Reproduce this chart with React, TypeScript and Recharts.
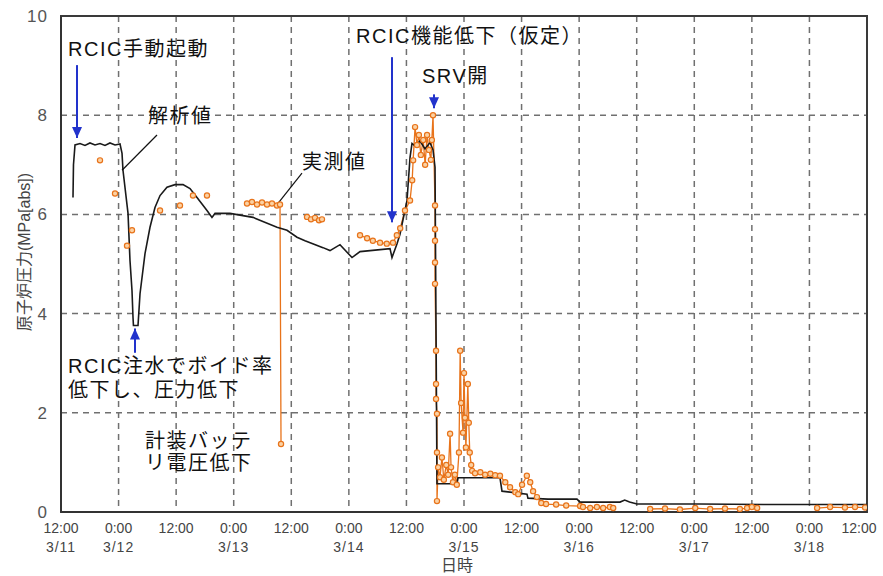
import React from 'react';
import {
  LineChart,
  Line,
  XAxis,
  YAxis,
  CartesianGrid,
  ReferenceLine,
  ReferenceDot,
  ReferenceArea,
} from 'recharts';

// Time axis is in hours counted from 3/11 0:00.
const tickHours = [12, 24, 36, 48, 60, 72, 84, 96, 108, 120, 132, 144, 156, 168, 180];
const tickTimes = ['12:00', '0:00', '12:00', '0:00', '12:00', '0:00', '12:00', '0:00', '12:00', '0:00', '12:00', '0:00', '12:00', '0:00', '12:00'];
const tickDates = ['3/11', '3/12', '', '3/13', '', '3/14', '', '3/15', '', '3/16', '', '3/17', '', '3/18', ''];
const pressureTicks = [0, 2, 4, 6, 8, 10];

// 解析値 (analysis result), MPa[abs]
const analysisHours = [
  14.5, 14.6, 14.92, 15.96, 17.0, 18.04, 19.09, 20.13, 21.17, 22.21, 23.26, 24.3,
  24.72, 24.92, 25.97, 26.38, 26.8, 27.01, 27.1, 28.05, 28.47, 29.51, 30.55, 31.59,
  32.64, 34.09, 35.76, 37.43, 38.89, 40.35, 42.43, 43.47, 44.1, 47.23, 52.02, 57.02,
  59.11, 61.19, 62.86, 66.61, 68.07, 70.15, 72.66, 74.33, 80.58, 80.99, 82.04, 82.66,
  84.12, 84.75, 85.16, 85.79, 86.83, 87.87, 88.91, 89.54, 89.96, 90.37, 94.54, 94.75,
  103.5, 103.92, 109.13, 109.33, 113.51, 119.55, 120.18, 128.52, 129.5, 130.5, 132.06,
  145, 160, 180,
];
const analysisValues = [
  6.34, 7.0, 7.4, 7.43, 7.39, 7.44, 7.4, 7.43, 7.39, 7.44, 7.4, 7.42,
  7.23, 6.89, 6.02, 5.07, 4.46, 3.92, 3.76, 3.76, 4.4, 5.21, 5.74, 6.14,
  6.38, 6.55, 6.6, 6.6, 6.52, 6.34, 6.08, 5.94, 6.02, 6.02, 5.94, 5.74,
  5.68, 5.54, 5.47, 5.33, 5.27, 5.39, 5.13, 5.25, 5.31, 5.13, 5.41, 5.6,
  6.28, 7.15, 7.43, 7.38, 7.48, 7.32, 7.45, 7.3, 6.95, 0.57, 0.57, 0.69,
  0.69, 0.42, 0.36, 0.28, 0.26, 0.26, 0.2, 0.2, 0.24, 0.2, 0.16,
  0.16, 0.15, 0.15,
];

// 実測値 (measured), MPa[abs]; null marks a gap in the record
const measuredHours = [
  20.13, 20.5, 23.26, 23.6, 25.76, 26.2, 26.8, 27.2, 32.64, 33, 36.8, 37.2, 39.51, 40, 42.43, 43,
  50.77, 51.81, 52.85, 53.9, 54.94, 55.98, 57.02, 57.65, 57.86, 58.2,
  63.28, 64.11, 64.94, 65.78, 66.4, 67,
  74.33, 75.8, 77.0, 78.5, 79.9, 81.2, 82.0, 82.7, 83.7, 84.75, 85.2, 85.4, 85.8, 86.2, 86.6, 87.0,
  87.5, 87.9, 88.3, 88.7, 89.1, 89.3, 89.54, 89.96, 89.96, 89.96, 89.96, 89.96, 90.17, 90.17, 90.17,
  90.37, 90.37, 90.37, 90.6, 91.0, 91.4, 91.8, 92.3, 92.7, 93.1, 93.3, 93.7, 94.1, 94.5, 94.95, 95.2,
  95.4, 95.8, 96.0, 96.2, 96.4, 96.8, 97.0, 97.2, 97.5, 97.7, 98.3, 99.4, 100.4, 101.5, 102.5, 103.5,
  104.6, 105.6, 106.7, 107.3, 108.1, 109.1, 109.8, 110.4, 111.2, 112.1, 113.1, 115.2, 117.3, 120.2,
  120.8, 122.3, 123.7, 125.0, 126.4, 127.1, 128,
  134.8, 137.9, 141.0, 144.2, 147.3, 150.4, 153.5, 155.0, 156.0, 157.1, 158,
  169.6, 172.3, 175.4, 177.5, 179.6,
];
const measuredValues: (number | null)[] = [
  7.09, null, 6.42, null, 5.37, null, 5.68, null, 6.08, null, 6.18, null, 6.38, null, 6.38, null,
  6.22, 6.25, 6.2, 6.24, 6.2, 6.22, 6.18, 6.2, 1.37, null,
  5.95, 5.9, 5.93, 5.88, 5.9, null,
  5.58, 5.52, 5.47, 5.43, 5.41, 5.43, 5.58, 5.72, 6.08, 6.28, 6.69, 7.09, 7.76, 7.4, 7.6, 7.2,
  7.5, 7.0, 7.6, 7.3, 7.1, 7.5, 8.0, 6.18, 5.7, 5.47, 5.03, 4.6, 3.25, 2.58, 2.28,
  1.98, 1.2, 0.22, 0.9, 0.7, 1.1, 0.65, 0.95, 0.75, 1.58, 0.9, 0.6, 0.75, 0.55, 1.2, 3.25,
  2.2, 1.6, 2.8, 1.9, 1.3, 2.58, 1.8, 1.2, 0.95, 0.83, 0.78, 0.8, 0.75, 0.77, 0.74, 0.73,
  0.6, 0.5, 0.4, 0.36, 0.55, 0.73, 0.6, 0.42, 0.3, 0.18, 0.16, 0.15, 0.13, 0.12,
  0.1, 0.08, 0.1, 0.08, 0.1, 0.08, null,
  0.06, 0.07, 0.05, 0.08, 0.06, 0.07, 0.06, 0.08, 0.1, 0.08, null,
  0.08, 0.1, 0.09, 0.1, 0.09,
];

const analysisData = analysisHours.map((t, i) => ({ t, v: analysisValues[i] }));
const measuredData = measuredHours.map((t, i) => ({ t, v: measuredValues[i] }));

const FONT = "'Liberation Sans', 'Noto Sans CJK JP', sans-serif";
const BLUE = '#2233cc';
const ORANGE = '#e8731a';

// Annotation captions: [text, hour, pressure] with the pressure at the text baseline
const captions: [string, number, number][] = [
  ['RCIC手動起動', 13.46, 9.19],
  ['解析値', 30.13, 7.84],
  ['実測値', 62.23, 6.91],
  ['RCIC機能低下（仮定）', 73.5, 9.45],
  ['SRV開', 87.25, 8.65],
  ['RCIC注水でボイド率', 13.46, 2.81],
  ['低下し、圧力低下', 13.46, 2.32],
  ['計装バッテ', 29.51, 1.29],
  ['リ電圧低下', 29.51, 0.85],
];

// Blue arrows: [hour, tail pressure, tip pressure]
const arrows: [number, number, number][] = [
  [15.34, 9.01, 7.54],
  [27.42, 3.21, 3.7],
  [80.99, 9.17, 5.84],
  [89.75, 8.42, 8.14],
];

// Leader lines from captions to the curves: [h1, p1, h2, p2]
const leaders: [number, number, number, number][] = [
  [32.01, 7.6, 24.72, 6.89],
  [62.23, 6.83, 57.23, 6.22],
];

const CaptionShape = (text: string) => (props: any) => (
  <text
    x={props.cx}
    y={props.cy}
    fontFamily={FONT}
    fontSize={20}
    letterSpacing={1.5}
    fill="#111"
  >
    {text}
  </text>
);

const ArrowHead = (down: boolean) => (props: any) => {
  const { cx, cy } = props;
  const h = 11;
  const w = 5;
  const d = down
    ? `M${cx - w},${cy - h} L${cx + w},${cy - h} L${cx},${cy} Z`
    : `M${cx - w},${cy + h} L${cx + w},${cy + h} L${cx},${cy} Z`;
  return <path d={d} fill={BLUE} stroke="none" />;
};

const XTick = (props: any) => {
  const { x, y, payload } = props;
  const i = tickHours.indexOf(payload.value);
  // keep the last label inside the canvas
  const tx = i === tickHours.length - 1 ? x - 8 : x;
  return (
    <g>
      <text x={tx} y={y + 21} textAnchor="middle" fontFamily={FONT} fontSize={14} fill="#444">
        {tickTimes[i]}
      </text>
      {tickDates[i] && (
        <text x={tx} y={y + 40} textAnchor="middle" fontFamily={FONT} fontSize={14} fill="#444" letterSpacing={1}>
          {tickDates[i]}
        </text>
      )}
    </g>
  );
};

const YTick = (props: any) => {
  const { x, y, payload } = props;
  return (
    <text x={x} y={y + 6} textAnchor="end" fontFamily={FONT} fontSize={17} fill="#555" letterSpacing={1}>
      {payload.value}
    </text>
  );
};

const YTitle = (props: any) => {
  const vb = props.viewBox;
  const cx = vb.x + 24;
  const cy = vb.y + vb.height / 2 - 12;
  return (
    <text
      x={cx}
      y={cy}
      transform={`rotate(-90 ${cx} ${cy})`}
      textAnchor="middle"
      dominantBaseline="central"
      fontFamily={FONT}
      fontSize={16}
      fill="#444"
    >
      原子炉圧力(MPa[abs])
    </text>
  );
};

const XTitle = (props: any) => {
  const vb = props.viewBox;
  return (
    <text
      x={vb.x + vb.width / 2 - 7}
      y={vb.y + 59}
      textAnchor="middle"
      fontFamily={FONT}
      fontSize={16}
      fill="#444"
    >
      日時
    </text>
  );
};

export default function App() {
  return (
    <div style={{ position: 'absolute', left: 0, top: 0, width: 883, height: 576, background: '#fff' }}>
      <LineChart width={883} height={576} margin={{ top: 16, right: 16, left: 0, bottom: 0 }}>
        <CartesianGrid stroke="#707070" strokeWidth={1.5} strokeDasharray="6 5" />
        <XAxis
          dataKey="t"
          type="number"
          domain={[12, 180]}
          ticks={tickHours}
          interval={0}
          height={64}
          tickSize={0}
          tickMargin={0}
          tickLine={false}
          axisLine={{ stroke: '#333', strokeWidth: 2 }}
          tick={<XTick />}
          label={<XTitle />}
          allowDataOverflow
        />
        <YAxis
          dataKey="v"
          type="number"
          domain={[0, 10]}
          ticks={pressureTicks}
          interval={0}
          width={61}
          tickSize={0}
          tickMargin={13}
          tickLine={false}
          axisLine={{ stroke: '#333', strokeWidth: 2 }}
          tick={<YTick />}
          label={<YTitle />}
          allowDataOverflow
        />
        <ReferenceArea x1={12} x2={180} y1={0} y2={10} fill="none" stroke="#3a3a3a" strokeWidth={2} />

        <Line
          data={measuredData}
          dataKey="v"
          type="linear"
          stroke={ORANGE}
          strokeWidth={1.3}
          dot={{ r: 2.6, stroke: ORANGE, strokeWidth: 1.2, fill: '#fbd2a4' }}
          isAnimationActive={false}
          connectNulls={false}
        />
        <Line
          data={analysisData}
          dataKey="v"
          type="linear"
          stroke="#1a1a1a"
          strokeWidth={1.6}
          dot={false}
          isAnimationActive={false}
        />

        {leaders.map(([h1, p1, h2, p2], i) => (
          <ReferenceLine
            key={`ld${i}`}
            segment={[{ x: h1, y: p1 }, { x: h2, y: p2 }]}
            stroke="#111"
            strokeWidth={1.2}
          />
        ))}
        {arrows.map(([h, tail, tip], i) => (
          <ReferenceLine
            key={`al${i}`}
            segment={[{ x: h, y: tail }, { x: h, y: tip }]}
            stroke={BLUE}
            strokeWidth={2}
          />
        ))}
        {arrows.map(([h, tail, tip], i) => (
          <ReferenceDot key={`ah${i}`} x={h} y={tip} r={0} shape={ArrowHead(tail > tip)} />
        ))}
        {captions.map(([text, h, p], i) => (
          <ReferenceDot key={`cp${i}`} x={h} y={p} r={0} shape={CaptionShape(text)} />
        ))}
      </LineChart>
    </div>
  );
}
